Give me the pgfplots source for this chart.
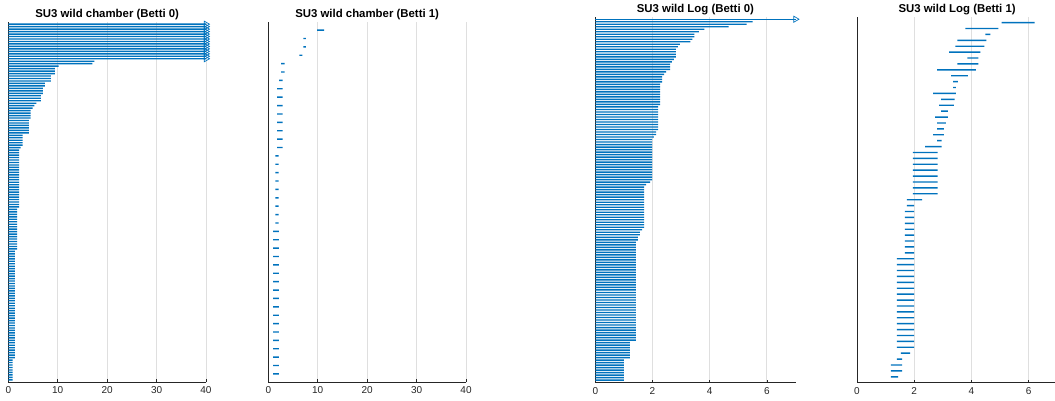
\documentclass[border=0pt]{standalone}
\usepackage{pgfplots}
\pgfplotsset{compat=1.18}
\usepackage{pgfplotstable}
\usepackage{fontspec}
\setmainfont{Liberation Sans}
\definecolor{mblue}{HTML}{0072BD}
\definecolor{axgray}{HTML}{262626}
\definecolor{gridgray}{HTML}{DFDFDF}

\pgfplotsset{
 bc/.style={
  scale only axis,
  anchor=south west,
  axis x line=bottom, axis y line=left,
  axis line style={axgray, line width=0.8pt, -},
  ytick=\empty,
  xmajorgrids, grid style={gridgray, line width=1pt},
  tick align=inside, major tick length=3pt, tick style={axgray, line width=0.8pt},
  xmin=0, ymin=0,
  clip=false,
  /pgf/number format/assume math mode=true,
  tick label style={font=\fontsize{10}{12}\selectfont, text=axgray},
  xticklabel style={inner sep=0pt, yshift=-4.4pt},
  every axis title/.style={at={(0.5,1)}, anchor=base, yshift=4.6pt, inner sep=0pt, font=\bfseries\fontsize{11.4}{13}\selectfont},
 },
 zbar/.style={xbar, bar width=1.4pt, bar shift=0pt, fill=mblue, draw=none},
 infm/.style={only marks, mark=triangle, mark size=3.5pt, mblue, mark options={rotate=-90, line width=0.7pt}},
}

% Panel 1: SU3 wild chamber (Betti 0)
\pgfplotstableread{
k d
145 40
144 40
143 40
142 40
141 40
140 40
139 40
138 40
137 40
136 40
135 40
134 40
133 40
132 40
131 40
}\tabAinf
\pgfplotstableread{
k d
130 17.4
129 17.0
128 10.2
127 9.4
126 9.4
125 9.4
124 8.6
123 8.6
122 8.6
121 7.4
120 7.4
119 7.0
118 7.0
117 7.0
116 6.6
115 6.6
114 6.6
113 5.7
112 5.3
111 4.9
110 4.5
109 4.5
108 4.5
107 4.5
106 4.15
105 4.15
104 4.15
103 4.15
102 4.15
101 4.15
100 2.9
99 2.9
98 2.9
97 2.9
96 2.9
95 2.5
94 2.2
93 2.2
92 2.2
91 2.2
90 2.2
89 2.2
88 2.2
87 2.2
86 2.2
85 2.2
84 2.2
83 2.2
82 2.2
81 2.2
80 2.2
79 2.2
78 2.2
77 2.2
76 2.2
75 2.2
74 2.2
73 2.2
72 2.2
71 2.2
70 1.8
69 1.8
68 1.8
67 1.8
66 1.8
65 1.8
64 1.8
63 1.8
62 1.8
61 1.8
60 1.8
59 1.8
58 1.8
57 1.8
56 1.8
55 1.8
54 1.8
53 1.35
52 1.35
51 1.35
50 1.35
49 1.35
48 1.35
47 1.35
46 1.35
45 1.35
44 1.35
43 1.35
42 1.35
41 1.35
40 1.35
39 1.35
38 1.35
37 1.35
36 1.35
35 1.35
34 1.35
33 1.35
32 1.35
31 1.35
30 1.35
29 1.35
28 1.35
27 1.35
26 1.35
25 1.35
24 1.35
23 1.35
22 1.35
21 1.35
20 1.35
19 1.35
18 1.35
17 1.35
16 1.35
15 1.35
14 1.35
13 1.35
12 1.35
11 1.35
10 1.35
9 0.9
8 0.9
7 0.9
6 0.9
5 0.9
4 0.9
3 0.9
2 0.9
1 0.9
}\tabA

% Panel 2: SU3 wild chamber (Betti 1)
\pgfplotstableread{
k b d
42 9.9 11.3
41 7.1 7.6
40 7.1 7.6
39 6.3 6.9
38 2.6 3.3
37 2.6 3.3
36 2.2 2.9
35 1.8 2.9
34 1.8 2.9
33 1.8 2.9
32 1.8 2.9
31 1.8 2.9
30 1.8 2.9
29 1.8 2.9
28 1.8 2.9
27 1.45 2.1
26 1.45 2.1
25 1.45 2.1
24 1.45 2.1
23 1.45 2.1
22 1.45 2.1
21 1.45 2.1
20 1.45 2.1
19 1.45 2.1
18 1.0 2.15
17 1.0 2.15
16 1.0 2.15
15 1.0 2.15
14 1.0 2.15
13 1.0 2.15
12 1.0 2.15
11 1.0 2.15
10 1.0 2.15
9 1.0 2.15
8 1.0 2.15
7 1.0 2.15
6 1.0 2.15
5 1.0 2.15
4 1.0 2.15
3 1.0 2.15
2 1.0 2.15
1 1.0 2.15
}\tabB

% Panel 3: SU3 wild Log (Betti 0)
\pgfplotstableread{
k d
145 7
}\tabCinf
\pgfplotstableread{
k d
144 5.5
143 5.29
142 4.66
141 3.81
140 3.62
139 3.46
138 3.46
137 3.39
136 3.32
135 2.96
134 2.89
133 2.82
132 2.82
131 2.82
130 2.82
129 2.75
128 2.68
127 2.62
126 2.62
125 2.62
124 2.48
123 2.41
122 2.34
121 2.34
120 2.34
119 2.27
118 2.27
117 2.27
116 2.27
115 2.27
114 2.27
113 2.27
112 2.27
111 2.27
110 2.2
109 2.2
108 2.2
107 2.2
106 2.2
105 2.2
104 2.2
103 2.2
102 2.2
101 2.2
100 2.13
99 2.13
98 2.05
97 1.99
96 1.99
95 1.99
94 1.99
93 1.99
92 1.99
91 1.99
90 1.99
89 1.99
88 1.99
87 1.99
86 1.99
85 1.99
84 1.99
83 1.99
82 1.99
81 1.99
80 1.92
79 1.78
78 1.71
77 1.71
76 1.71
75 1.71
74 1.71
73 1.71
72 1.71
71 1.71
70 1.71
69 1.71
68 1.71
67 1.71
66 1.71
65 1.71
64 1.71
63 1.71
62 1.71
61 1.64
60 1.56
59 1.56
58 1.49
57 1.49
56 1.42
55 1.42
54 1.42
53 1.42
52 1.42
51 1.42
50 1.42
49 1.42
48 1.42
47 1.42
46 1.42
45 1.42
44 1.42
43 1.42
42 1.42
41 1.42
40 1.42
39 1.42
38 1.42
37 1.42
36 1.42
35 1.42
34 1.42
33 1.42
32 1.42
31 1.42
30 1.42
29 1.42
28 1.42
27 1.42
26 1.42
25 1.42
24 1.42
23 1.42
22 1.42
21 1.42
20 1.42
19 1.42
18 1.42
17 1.42
16 1.21
15 1.21
14 1.21
13 1.21
12 1.21
11 1.21
10 1.21
9 1.0
8 1.0
7 1.0
6 1.0
5 1.0
4 1.0
3 1.0
2 1.0
1 1.0
}\tabC

% Panel 4: SU3 wild Log (Betti 1)
\pgfplotstableread{
k b d
61 5.06 6.21
60 3.79 4.94
59 4.49 4.66
58 3.51 4.52
57 3.44 4.45
56 3.22 4.31
55 3.86 4.24
54 3.51 4.24
53 2.80 4.16
52 3.29 3.88
51 3.36 3.53
50 3.36 3.46
49 2.66 3.46
48 2.94 3.41
47 2.87 3.39
46 2.94 3.18
45 2.73 3.18
44 2.80 3.11
43 2.80 3.04
42 2.66 3.04
41 2.80 2.96
40 2.38 2.96
39 1.95 2.82
38 1.95 2.82
37 1.95 2.82
36 1.95 2.82
35 1.95 2.82
34 1.95 2.82
33 1.95 2.82
32 1.95 2.82
31 1.74 2.28
30 1.74 2.00
29 1.67 2.00
28 1.67 2.00
27 1.67 2.00
26 1.67 2.00
25 1.67 2.00
24 1.67 2.00
23 1.67 2.00
22 1.67 2.00
21 1.39 2.00
20 1.39 2.00
19 1.39 2.00
18 1.39 2.00
17 1.39 2.00
16 1.39 2.00
15 1.39 2.00
14 1.39 2.00
13 1.39 2.00
12 1.39 2.00
11 1.39 2.00
10 1.39 2.00
9 1.39 2.00
8 1.39 2.00
7 1.39 2.00
6 1.39 2.00
5 1.53 1.86
4 1.39 1.58
3 1.18 1.58
2 1.18 1.58
1 1.18 1.44
}\tabD

\begin{document}
\begin{tikzpicture}[x=1pt,y=1pt]
\begin{axis}[bc, at={(8.3pt,17.7pt)}, width=197.7pt, height=360.6pt,
  xmax=40, ymax=146, xtick={0,10,20,30,40},
  title={SU3 wild chamber (Betti 0)}]
\addplot[zbar] table[x=d, y=k] {\tabAinf};
\addplot[zbar] table[x=d, y=k] {\tabA};
\addplot[infm] table[x=d, y=k] {\tabAinf};
\end{axis}
\begin{axis}[bc, at={(268.3pt,17.7pt)}, width=197.7pt, height=360.6pt,
  xmax=40, ymax=43, xtick={0,10,20,30,40},
  xbar stacked, bar width=1.4pt,
  title={SU3 wild chamber (Betti 1)}]
\addplot[draw=none, fill=none] table[x=b, y=k] {\tabB};
\addplot[draw=none, fill=mblue] table[x expr=\thisrow{d}-\thisrow{b}, y=k] {\tabB};
\end{axis}
\begin{axis}[bc, at={(595.3pt,17.3pt)}, width=200.2pt, height=366pt,
  xmax=7, ymax=146, xtick={0,2,4,6},
  title={SU3 wild Log (Betti 0)}]
\addplot[zbar] table[x=d, y=k] {\tabCinf};
\addplot[zbar] table[x=d, y=k] {\tabC};
\addplot[infm] table[x=d, y=k] {\tabCinf};
\end{axis}
\begin{axis}[bc, at={(857pt,17.3pt)}, width=200.2pt, height=366pt,
  xmax=7, ymax=62, xtick={0,2,4,6},
  xbar stacked, bar width=1.4pt,
  title={SU3 wild Log (Betti 1)}]
\addplot[draw=none, fill=none] table[x=b, y=k] {\tabD};
\addplot[draw=none, fill=mblue] table[x expr=\thisrow{d}-\thisrow{b}, y=k] {\tabD};
\end{axis}
\pgfresetboundingbox
\path[use as bounding box] (0,0) rectangle (1055,400);
\end{tikzpicture}
\end{document}
